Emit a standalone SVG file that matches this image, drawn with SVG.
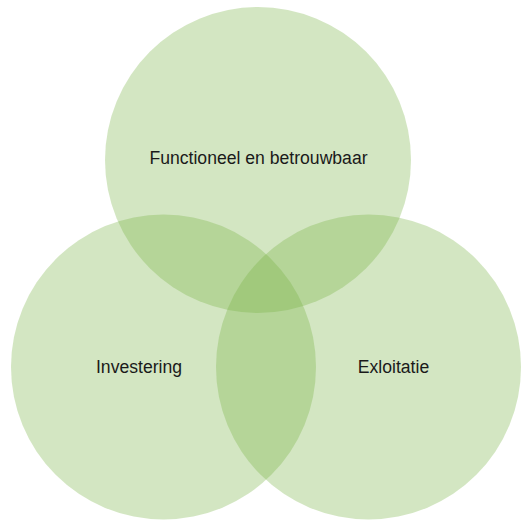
<svg xmlns="http://www.w3.org/2000/svg" width="523" height="521" viewBox="0 0 523 521">
  <style>
    .set { fill: #75b141; fill-opacity: 0.32; }
    .label { font-family: "Liberation Sans", Arial, sans-serif; font-size: 17.6px; fill: #1a1a1a; text-anchor: middle; }
  </style>
  <rect width="523" height="521" fill="#ffffff"/>
  <g id="connectors"></g>
  <g id="node-functioneel">
    <circle class="set" cx="258" cy="160" r="153"/>
    <text class="label" x="258.5" y="164">Functioneel en betrouwbaar</text>
  </g>
  <g id="node-investering">
    <circle class="set" cx="163.5" cy="367" r="152.5"/>
    <text class="label" x="139" y="373">Investering</text>
  </g>
  <g id="node-exloitatie">
    <circle class="set" cx="368.5" cy="367" r="152.5"/>
    <text class="label" x="393.5" y="373">Exloitatie</text>
  </g>
</svg>
